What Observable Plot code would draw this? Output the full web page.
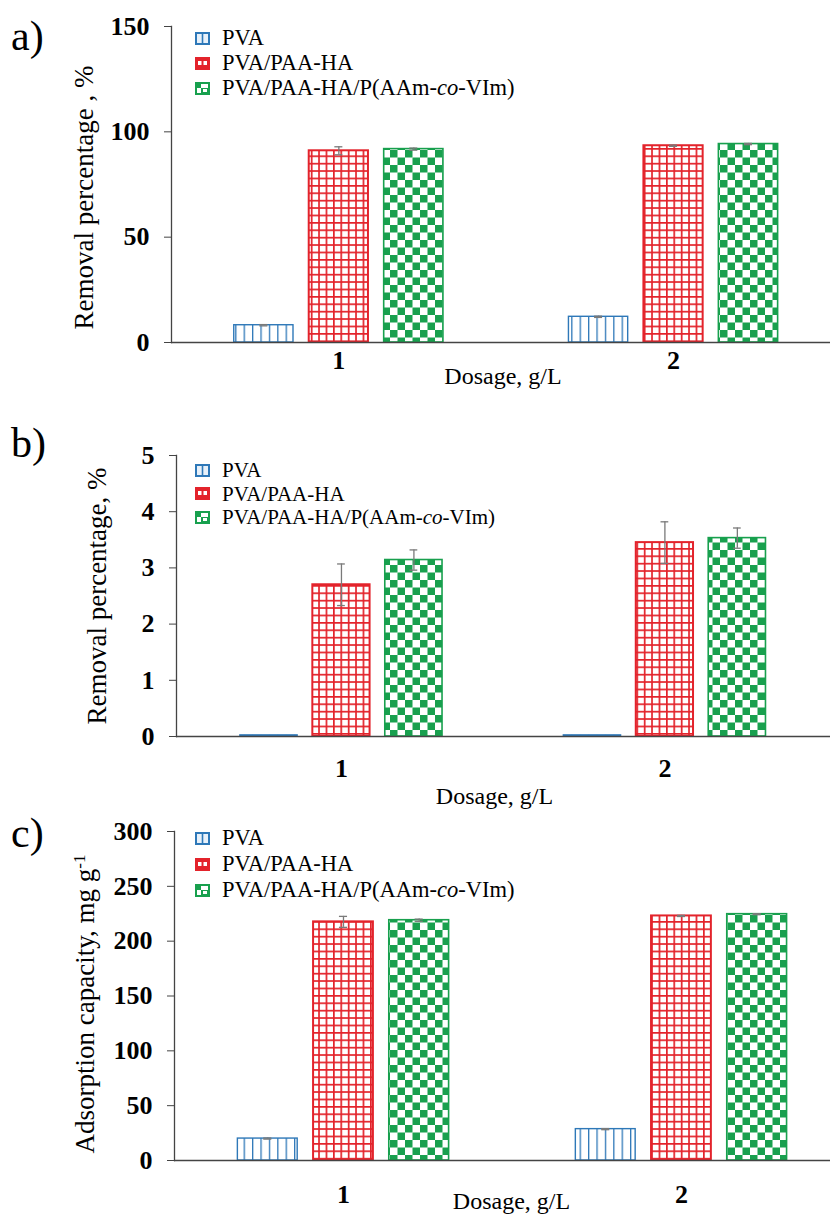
<!DOCTYPE html>
<html><head><meta charset="utf-8">
<script src="https://cdn.jsdelivr.net/npm/d3@7"></script>
<script src="https://cdn.jsdelivr.net/npm/@observablehq/plot@0.6"></script>
<style>
body{margin:0;background:#fff;}
#wrap{position:relative;width:830px;height:1215px;font-family:'Liberation Serif','Tinos','DejaVu Serif',serif;color:#000;overflow:hidden;}
#wrap svg text{font-family:'Liberation Serif','Tinos','DejaVu Serif',serif;}
.panel{position:absolute;left:0;}
.letter{position:absolute;left:11px;font-size:42px;line-height:1;}
.item{position:absolute;left:195px;height:20px;line-height:20px;white-space:nowrap;display:flex;align-items:center;}
.item svg{margin-right:12px;flex:none;}
</style></head><body>
<svg width="0" height="0" style="position:absolute">
  <defs>
    <pattern id="patPVA" patternUnits="userSpaceOnUse" width="8.4" height="20">
      <rect width="8.4" height="20" fill="#fff"/>
      <rect x="0" width="1.3" height="20" fill="#2e78b8"/>
    </pattern>
    <pattern id="patGrid" patternUnits="userSpaceOnUse" width="7.4" height="7.4">
      <rect width="7.4" height="7.4" fill="#fff"/>
      <rect width="7.4" height="1.7" fill="#e3232b"/>
      <rect width="1.7" height="7.4" fill="#e3232b"/>
    </pattern>
    <pattern id="patCheck" patternUnits="userSpaceOnUse" width="15" height="15">
      <rect width="15" height="15" fill="#fff"/>
      <rect width="7.5" height="7.5" fill="#18a04e"/>
      <rect x="7.5" y="7.5" width="7.5" height="7.5" fill="#18a04e"/>
    </pattern>
  </defs>
</svg>
<div id="wrap"></div>
<script>
// ---- data ----
const dosages = [1, 2];
const seriesNames = ["PVA", "PVA/PAA-HA", "PVA/PAA-HA/P(AAm-co-VIm)"];

// a) removal percentage (%)
const removalA_PVA = [8.2, 12.2];
const removalA_PAAHA = [91.0, 93.4];
const removalA_Co = [91.8, 94.2];
const errA_PVA = [0.3, 0.3];
const errA_PAAHA = [1.9, 0.3];
const errA_Co = [0.5, 0.3];
const ticksA = [0, 50, 100, 150];

// b) removal percentage (%)
const removalB_PVA = [0.02, 0.02];
const removalB_PAAHA = [2.70, 3.45];
const removalB_Co = [3.14, 3.53];
const errB_PVA = [0, 0];
const errB_PAAHA = [0.37, 0.37];
const errB_Co = [0.18, 0.18];
const ticksB = [0, 1, 2, 3, 4, 5];

// c) adsorption capacity (mg g-1)
const capC_PVA = [20.0, 28.6];
const capC_PAAHA = [217.6, 223.0];
const capC_Co = [219.1, 224.6];
const errC_PVA = [0.5, 0.5];
const errC_PAAHA = [5.0, 0.5];
const errC_Co = [1.0, 0.5];
const ticksC = [0, 50, 100, 150, 200, 250, 300];

// ---- styles ----
const fills = ["url(#patPVA)", "url(#patGrid)", "url(#patCheck)"];
const strokes = ["#2e78b8", "#e3232b", "#18a04e"];
const strokeW = [1.4, 2, 1.6];
const FONT = "'Liberation Serif','Tinos','DejaVu Serif',serif";

function makePanel(cfg) {
  const rows = [];
  dosages.forEach((d, i) => cfg.values.forEach((vals, j) =>
    rows.push({dose: d, si: j, series: seriesNames[j], value: vals[i], err: cfg.errs[j][i]})));
  const off = 0.224, bw = 0.177, cap = 0.012;
  const cx = r => r.dose + (r.si - 1) * off;
  const errRows = rows.filter(r => r.err > 0);
  const marks = [];
  seriesNames.forEach((s, j) => {
    marks.push(Plot.rectY(rows.filter(r => r.si === j), {
      x1: r => cx(r) - bw / 2, x2: r => cx(r) + bw / 2, y1: 0, y2: "value",
      fill: fills[j], stroke: strokes[j], strokeWidth: strokeW[j]
    }));
  });
  marks.push(
    Plot.ruleX(errRows, {x: cx, y1: r => r.value - r.err, y2: r => r.value + r.err, stroke: "#7a7a7a", strokeWidth: 1.3}),
    Plot.ruleY(errRows, {y: r => r.value + r.err, x1: r => cx(r) - cap, x2: r => cx(r) + cap, stroke: "#7a7a7a", strokeWidth: 1.3}),
    Plot.ruleY(errRows, {y: r => r.value - r.err, x1: r => cx(r) - cap, x2: r => cx(r) + cap, stroke: "#7a7a7a", strokeWidth: 1.3}),
    Plot.frame({anchor: "left", stroke: "#444", strokeWidth: 1.3}),
    Plot.ruleY([0], {stroke: "#444", strokeWidth: 1.3}),
    Plot.axisY({ticks: cfg.yTicks, tickSize: 7, tickPadding: 15, fontSize: 26, fontWeight: "bold",
      stroke: "#444", fill: "#000", label: null, tickFormat: d => String(d)}),
    Plot.axisX({ticks: dosages, tickSize: 0, tickPadding: cfg.tickPadding, fontSize: 26, fontWeight: "bold",
      fill: "#000", label: null, tickFormat: d => String(d)}),
    Plot.text([cfg.xTitle], {frameAnchor: "bottom", dx: cfg.xTitleDx, dy: cfg.xTitleDy, fontSize: 24,
      lineAnchor: "middle", textAnchor: "middle", fill: "#000"}),
    Plot.text([cfg.yTitle], {frameAnchor: "left", rotate: -90, dx: cfg.yTitleDx, dy: cfg.yTitleDy, fontSize: 27,
      lineAnchor: "middle", textAnchor: "middle", fill: "#000"})
  );
  const svg = Plot.plot({
    width: 830, height: cfg.height,
    marginLeft: cfg.marginLeft, marginRight: 0, marginTop: cfg.marginTop, marginBottom: cfg.marginBottom,
    x: {type: "linear", domain: cfg.xDomain, axis: null},
    y: {domain: cfg.yDomain, axis: null},
    style: {fontFamily: FONT, background: "white", color: "#000", overflow: "visible"},
    marks
  });
  if (cfg.sup) {
    d3.select(svg).selectAll("text").filter(function() { return this.textContent === cfg.yTitle; })
      .append("tspan").attr("dy", "-0.55em").attr("font-size", "17px").text(cfg.sup);
  }
  return svg;
}

const wrap = document.getElementById("wrap");
function addPanel(top, svg) {
  const div = document.createElement("div");
  div.className = "panel";
  div.style.top = top + "px";
  div.appendChild(svg);
  wrap.appendChild(div);
}
function swatch(j) {
  const c = strokes[j];
  if (j === 0) return `<svg width="15" height="13"><rect x="1" y="1" width="13" height="11" fill="#e8f1fa" stroke="${c}" stroke-width="2"/><line x1="7.5" y1="1" x2="7.5" y2="12" stroke="${c}" stroke-width="1.6"/></svg>`;
  if (j === 1) return `<svg width="15" height="13"><rect x="0" y="0" width="15" height="13" fill="${c}"/><rect x="3" y="4" width="3.5" height="4" fill="#fff"/><rect x="8.5" y="4" width="3.5" height="4" fill="#fff"/></svg>`;
  return `<svg width="15" height="13"><rect x="1" y="1" width="13" height="11" fill="#fff" stroke="${c}" stroke-width="2"/><rect x="1" y="1" width="5" height="5" fill="${c}"/><rect x="6" y="6" width="8" height="6" fill="${c}"/><rect x="8" y="7" width="4" height="3" fill="#fff"/></svg>`;
}
function addLegend(centers, fontSize) {
  const labels = ["PVA", "PVA/PAA-HA", "PVA/PAA-HA/P(AAm-<i>co</i>-VIm)"];
  centers.forEach((cy, j) => {
    const it = document.createElement("div");
    it.className = "item";
    it.style.top = (cy - 10) + "px";
    it.style.fontSize = fontSize + "px";
    it.innerHTML = swatch(j) + `<span>${labels[j]}</span>`;
    wrap.appendChild(it);
  });
}
function addLetter(txt, top) {
  const d = document.createElement("div");
  d.className = "letter";
  d.style.top = top + "px";
  d.textContent = txt;
  wrap.appendChild(d);
}

addPanel(0, makePanel({
  values: [removalA_PVA, removalA_PAAHA, removalA_Co], errs: [errA_PVA, errA_PAAHA, errA_Co],
  yDomain: [0, 150], yTicks: ticksA, xDomain: [0.5, 2.469],
  height: 400, marginLeft: 171, marginTop: 26, marginBottom: 58, tickPadding: 8,
  xTitle: "Dosage, g/L", xTitleDx: 2, xTitleDy: 34,
  yTitle: "Removal percentage , %", yTitleDx: -87, yTitleDy: 13
}));
addPanel(400, makePanel({
  values: [removalB_PVA, removalB_PAAHA, removalB_Co], errs: [errB_PVA, errB_PAAHA, errB_Co],
  yDomain: [0, 5], yTicks: ticksB, xDomain: [0.49, 2.512],
  height: 410, marginLeft: 176, marginTop: 55, marginBottom: 74, tickPadding: 22,
  xTitle: "Dosage, g/L", xTitleDx: -9, xTitleDy: 60,
  yTitle: "Removal percentage, %", yTitleDx: -79, yTitleDy: 0
}));
addPanel(810, makePanel({
  values: [capC_PVA, capC_PAAHA, capC_Co], errs: [errC_PVA, errC_PAAHA, errC_Co],
  yDomain: [0, 300], yTicks: ticksC, xDomain: [0.5, 2.441],
  height: 405, marginLeft: 174, marginTop: 21, marginBottom: 55, tickPadding: 24,
  xTitle: "Dosage, g/L", xTitleDx: 9, xTitleDy: 41,
  yTitle: "Adsorption capacity, mg g", sup: "-1", yTitleDx: -89, yTitleDy: 8
}));

addLegend([38, 63, 88], 22.5);
addLegend([470, 493.5, 517], 21);
addLegend([838, 864, 890], 22.5);
addLetter("a)", 15);
addLetter("b)", 422);
addLetter("c)", 812);
</script>
</body></html>
